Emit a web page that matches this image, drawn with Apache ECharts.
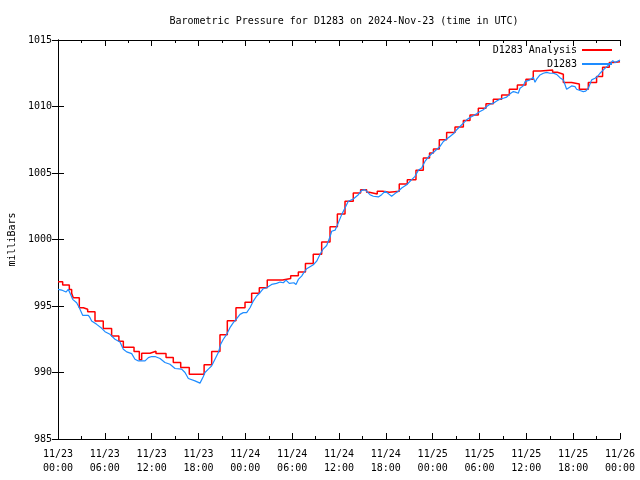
<!DOCTYPE html>
<html><head><meta charset="utf-8">
<script src="https://cdn.jsdelivr.net/npm/echarts@6/dist/echarts.min.js"></script>
<style>html,body{margin:0;padding:0;background:#fff}#c{width:640px;height:480px}</style>
</head><body><div id="c"></div>
<script>
// hours since 2024-11-23 00:00 UTC
const analysisHours = [0,0.6,1.45,1.75,1.96,2.73,3.25,3.8,4.74,5.8,6.87,7.8,8.37,9.74,10.42,10.72,11.79,12.55,13.84,14.77,15.72,16.82,18.72,19.69,20.75,21.69,22.8,23.96,24.81,25.79,26.81,28.78,29.81,30.79,31.7,32.7,33.78,34.85,35.79,36.77,37.83,38.77,39.54,39.88,40.9,41.59,42.44,43.72,44.75,45.86,46.8,47.6,48.1,48.85,49.79,50.86,51.93,52.78,53.85,54.83,55.77,56.84,57.82,58.85,59.95,60.89,61.83,63.37,63.97,64.74,65.8,66.79,67.94,69.0,69.77,70.63,71.14,72];
const analysisValues = [996.82,996.57,996.25,995.95,995.62,994.87,994.75,994.57,993.87,993.3,992.75,992.35,991.9,991.57,990.95,991.45,991.6,991.42,991.12,990.75,990.37,989.87,990.58,991.57,992.83,993.9,994.87,995.28,995.95,996.37,996.95,997.07,997.28,997.55,998.2,998.9,999.82,1000.95,1001.92,1002.87,1003.5,1003.75,1003.55,1003.42,1003.62,1003.55,1003.62,1004.17,1004.5,1005.2,1006.12,1006.5,1006.8,1007.5,1008.05,1008.45,1008.95,1009.37,1009.87,1010.2,1010.55,1010.87,1011.3,1011.62,1012.05,1012.67,1012.75,1012.57,1012.42,1011.8,1011.7,1011.3,1011.8,1012.25,1012.95,1013.3,1013.37,1013.37];

const obsHours = [0,0.47,0.68,1.02,1.32,1.62,1.88,2.05,2.39,2.73,3.16,3.89,4.1,4.31,4.95,5.6,6.02,6.66,7.3,7.94,8.37,8.8,9.44,9.86,10.3,11.15,11.58,11.79,12.0,12.43,13.07,13.7,14.35,14.99,15.84,16.27,16.7,17.55,18.19,18.4,18.62,18.83,19.26,19.69,20.11,20.54,20.84,21.18,21.61,22.03,22.46,22.89,23.32,23.74,24.17,24.6,25.02,25.45,25.88,26.3,26.73,27.37,28.0,28.45,28.87,29.21,29.63,30.23,30.49,30.79,31.21,31.43,31.86,32.71,33.14,33.56,33.99,34.42,34.85,35.06,35.27,35.5,35.91,36.34,36.77,37.19,37.83,38.48,38.9,39.33,39.54,39.97,40.4,41.04,41.46,41.89,42.32,42.74,43.17,43.59,44.03,44.67,45.31,45.74,46.16,46.59,47.01,47.44,47.87,48.3,48.51,48.94,49.37,49.79,50.22,50.65,51.07,51.5,51.93,52.35,52.78,53.21,53.63,54.06,54.49,54.92,55.34,55.77,56.2,56.62,57.05,57.48,57.91,58.33,58.6,58.97,59.19,59.61,59.83,60.04,60.47,60.89,61.11,61.32,61.75,62.18,62.6,63.03,63.46,63.67,63.88,64.31,64.74,65.16,65.38,65.8,66.23,66.44,66.87,67.3,67.6,67.94,68.37,68.8,69.1,69.44,69.87,70.3,70.72,71.07,71.37,71.58,72.0];
const obsValues = [996.25,996.2,996.3,996.05,996.25,995.87,995.5,995.6,995.25,994.87,994.3,994.3,994.12,993.87,993.62,993.32,993.07,992.87,992.5,992.3,991.75,991.55,991.42,991.0,990.87,990.87,991.12,991.0,991.2,991.2,991.05,990.75,990.62,990.3,990.25,990.0,989.55,989.37,989.2,989.2,989.7,990.0,990.25,990.5,991.0,991.5,992.12,992.5,992.87,993.37,993.75,994.05,994.37,994.5,994.5,994.87,995.37,995.75,996.0,996.3,996.37,996.62,996.7,996.8,996.75,996.95,996.7,996.75,996.62,997.0,997.25,997.45,997.8,998.1,998.37,998.87,999.3,999.55,1000.2,1000.62,1000.55,1000.7,1001.25,1001.87,1002.37,1002.87,1003.05,1003.37,1003.7,1003.75,1003.65,1003.37,1003.25,1003.2,1003.37,1003.62,1003.45,1003.25,1003.45,1003.62,1003.87,1004.12,1004.5,1004.75,1005.2,1005.37,1005.87,1006.2,1006.45,1006.65,1006.72,1007.0,1007.37,1007.55,1007.75,1007.95,1008.25,1008.5,1008.75,1009.0,1009.17,1009.3,1009.45,1009.62,1009.75,1010.0,1010.17,1010.25,1010.42,1010.55,1010.62,1010.7,1010.95,1011.12,1011.08,1011.0,1011.37,1011.55,1011.87,1011.75,1012.0,1012.2,1011.82,1012.05,1012.37,1012.5,1012.57,1012.5,1012.5,1012.6,1012.42,1012.17,1012.0,1011.3,1011.2,1011.55,1011.5,1011.3,1011.2,1011.12,1011.15,1011.37,1012.0,1012.12,1012.25,1012.5,1012.75,1013.0,1013.2,1013.45,1013.3,1013.45,1013.5];

const titleText = 'Barometric Pressure for D1283 on 2024-Nov-23 (time in UTC)';
const yName = 'milliBars';
const seriesNames = ['D1283 Analysis', 'D1283'];
const seriesColors = ['#ff0000', '#1e8cff'];

const FONT = 'DejaVu Sans Mono';
function pad(n){return (n<10?'0':'')+n;}
function xLabel(v){
  const d = 23 + Math.floor(v/24);
  const h = Math.round(v % 24);
  return '11/' + d + '\n' + pad(h) + ':00';
}
const zip = (a,b) => a.map((x,i)=>[x,b[i]]);

const chart = echarts.init(document.getElementById('c'), null, {renderer:'canvas'});
const xCommon = {
  type:'value', min:0, max:72, interval:6,
  axisLine:{show:true, lineStyle:{color:'#000', width:1}},
  axisTick:{show:true, inside:true, length:6, lineStyle:{color:'#000'}},
  minorTick:{show:true, splitNumber:2, length:3, lineStyle:{color:'#000'}},
  splitLine:{show:false}
};
const yCommon = {
  type:'value', min:985, max:1015, interval:5,
  axisLine:{show:true, lineStyle:{color:'#000', width:1}},
  axisTick:{show:true, inside:true, length:6, lineStyle:{color:'#000'}},
  splitLine:{show:false}
};
chart.setOption({
  animation:false,
  backgroundColor:'#fff',
  title:{text:titleText, left:339, textAlign:'center', top:11,
    textStyle:{fontFamily:FONT, fontSize:10, fontWeight:'normal', color:'#000'}},
  legend:{
    orient:'vertical', right:28, top:44, align:'right', padding:0,
    itemWidth:30, itemHeight:2, itemGap:2,
    textStyle:{fontFamily:FONT, fontSize:10, color:'#000', lineHeight:12},
    data:seriesNames.map(n=>({name:n, icon:'rect'}))
  },
  grid:{left:58, right:20, top:40, bottom:41, outerBoundsMode:'none', containLabel:false},
  xAxis:[
    Object.assign({}, xCommon, {position:'bottom',
      axisLabel:{show:true, formatter:xLabel, fontFamily:FONT, fontSize:10, color:'#000',
        lineHeight:14, margin:8, showMinLabel:true, showMaxLabel:true, hideOverlap:false}}),
    Object.assign({}, xCommon, {position:'top', axisLabel:{show:false}})
  ],
  yAxis:[
    Object.assign({}, yCommon, {position:'left', name:yName, nameLocation:'middle', nameGap:40,
      nameTextStyle:{fontFamily:FONT, fontSize:10, color:'#000'},
      axisLabel:{show:true, formatter:v=>String(v), fontFamily:FONT, fontSize:10, color:'#000', margin:6}}),
    Object.assign({}, yCommon, {position:'right', axisLabel:{show:false}})
  ],
  series:[
    {name:seriesNames[0], type:'line', step:'end', symbol:'none', showSymbol:false,
      data:zip(analysisHours, analysisValues), color:seriesColors[0],
      itemStyle:{color:seriesColors[0]},
      lineStyle:{color:seriesColors[0], width:1.5}, z:2},
    {name:seriesNames[1], type:'line', symbol:'none', showSymbol:false,
      data:zip(obsHours, obsValues), color:seriesColors[1],
      itemStyle:{color:seriesColors[1]},
      lineStyle:{color:seriesColors[1], width:1.2}, z:3}
  ]
});
</script></body></html>
